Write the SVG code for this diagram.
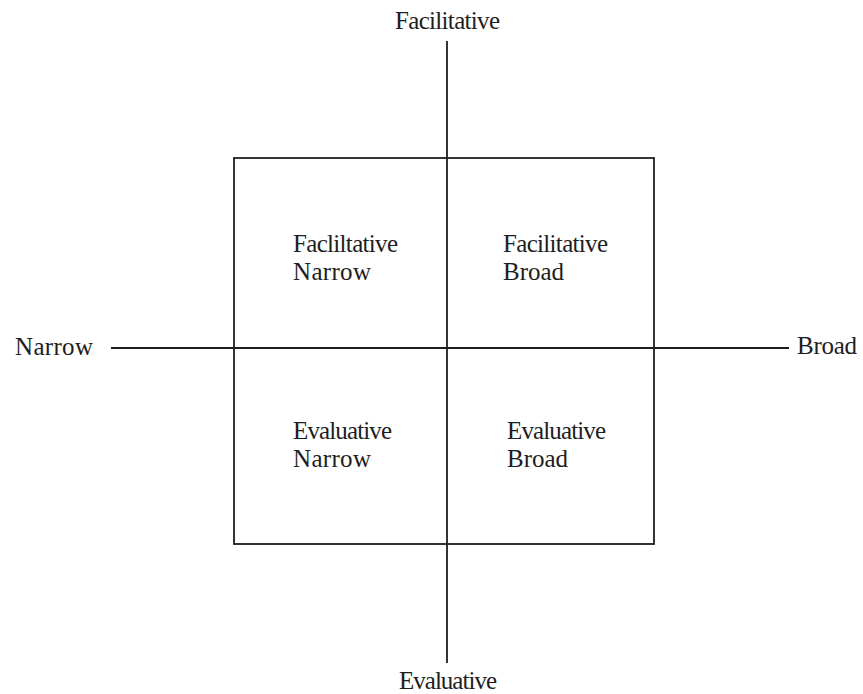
<svg xmlns="http://www.w3.org/2000/svg" width="863" height="694" viewBox="0 0 863 694">
<style>
.ln{stroke:#1e1e1e;stroke-width:1.8;fill:none}
.t{font-family:"Liberation Serif","Times New Roman",serif;font-size:25px;fill:#1e1e1e}
</style>
<rect width="863" height="694" fill="#ffffff"/>
<g id="connectors">
<line class="ln" x1="447" y1="41" x2="447" y2="663"/>
<line class="ln" x1="111" y1="348" x2="789" y2="348"/>
</g>
<g id="box"><rect class="ln" x="234" y="158" width="420" height="386"/></g>
<g id="axis-top"><text class="t" x="395" y="29" textLength="105" lengthAdjust="spacing">Facilitative</text></g>
<g id="axis-bottom"><text class="t" x="399" y="689" textLength="98" lengthAdjust="spacing">Evaluative</text></g>
<g id="axis-left"><text class="t" x="15" y="355" textLength="78" lengthAdjust="spacing">Narrow</text></g>
<g id="axis-right"><text class="t" x="797" y="354" textLength="60" lengthAdjust="spacing">Broad</text></g>
<g id="q-facilitative-narrow">
<text class="t" x="293" y="252" textLength="105" lengthAdjust="spacing">Facliltative</text>
<text class="t" x="293" y="280" textLength="78" lengthAdjust="spacing">Narrow</text>
</g>
<g id="q-facilitative-broad">
<text class="t" x="503" y="252" textLength="105" lengthAdjust="spacing">Facilitative</text>
<text class="t" x="503" y="280" textLength="61" lengthAdjust="spacing">Broad</text>
</g>
<g id="q-evaluative-narrow">
<text class="t" x="293" y="439" textLength="99" lengthAdjust="spacing">Evaluative</text>
<text class="t" x="293" y="467" textLength="78" lengthAdjust="spacing">Narrow</text>
</g>
<g id="q-evaluative-broad">
<text class="t" x="507" y="439" textLength="99" lengthAdjust="spacing">Evaluative</text>
<text class="t" x="507" y="467" textLength="61" lengthAdjust="spacing">Broad</text>
</g>
</svg>
